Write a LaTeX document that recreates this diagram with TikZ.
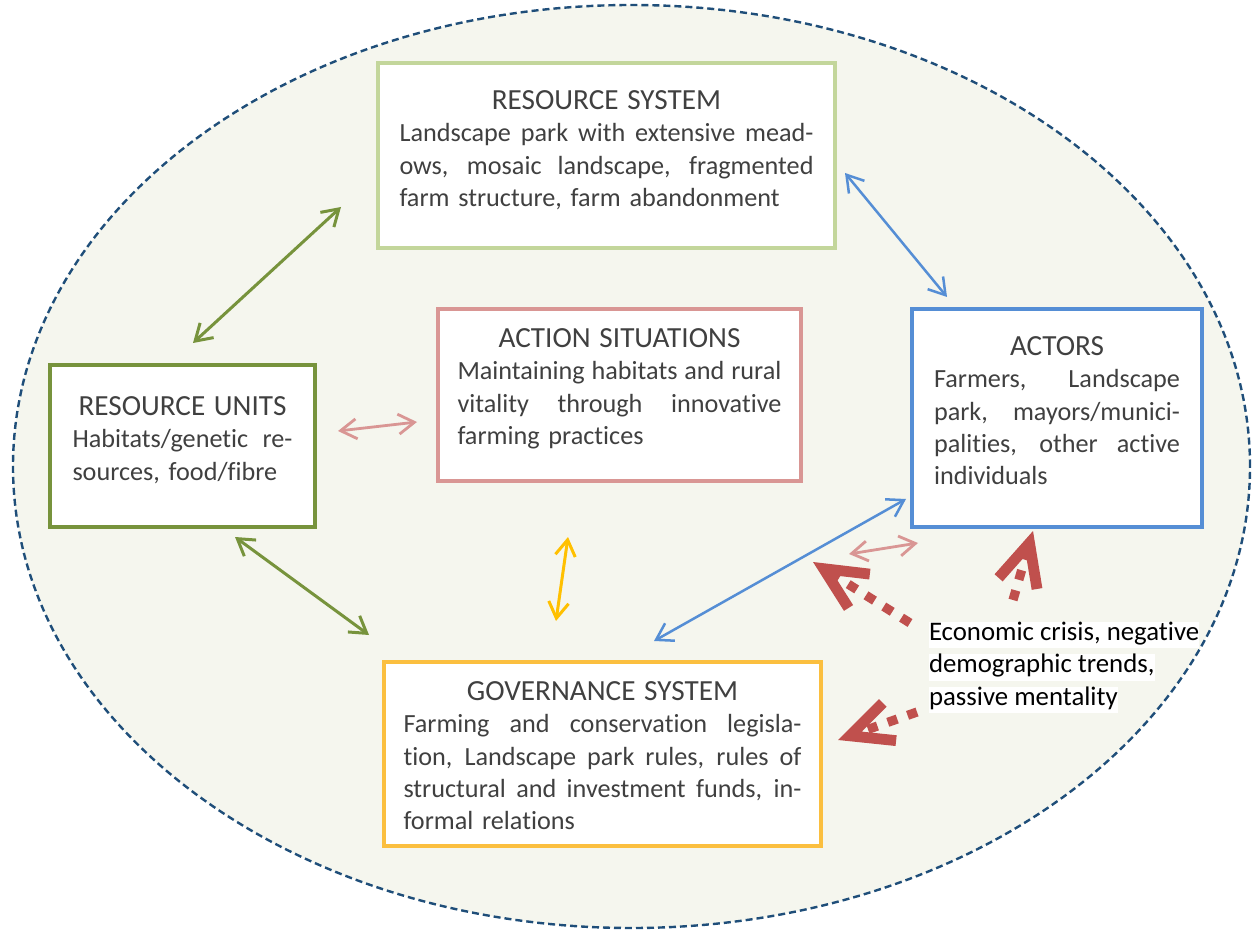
\documentclass[tikz,border=0pt]{standalone}
\usepackage{fontspec}
\setmainfont[Ligatures={NoCommon,NoContextual}]{Carlito}
\usepackage{xcolor}
\usetikzlibrary{arrows.meta,positioning}
\definecolor{ellfill}{HTML}{F5F6EE}
\definecolor{elldraw}{HTML}{1F4E79}
\definecolor{rsgreen}{HTML}{C3D69B}
\definecolor{rugreen}{HTML}{77933C}
\definecolor{aspink}{HTML}{D99694}
\definecolor{actblue}{HTML}{558ED5}
\definecolor{govgold}{HTML}{FFC000}
\definecolor{govbox}{HTML}{FBBF3F}
\definecolor{crisisred}{HTML}{C0504D}
\definecolor{txtgray}{HTML}{404040}
\setlength{\parindent}{0pt}
\setlength{\fboxsep}{0pt}
\newcommand{\bodyfont}{\fontsize{13.1}{16.2}\selectfont}
\newcommand{\headfont}{\fontsize{14.6}{16.2}\selectfont}
\newcommand{\econfont}{\fontsize{13.4}{16.2}\selectfont}
\newcommand{\fullln}[1]{\makebox[\hsize][s]{\spaceskip=0.226em plus 1fil\relax\xspaceskip=\spaceskip\relax #1}\\}
\newcommand{\lastln}[1]{\makebox[\hsize][l]{#1}}
\newcommand{\hlln}[1]{\colorbox{white}{\rule[-4pt]{0pt}{12.1pt}#1}}
\tikzset{
    ellsty/.style={draw=elldraw,fill=ellfill,line width=1.2pt,dash pattern=on 3.5pt off 2pt},
    boxsty/.style={draw=#1,line width=2.2pt,fill=white,rectangle,inner sep=0pt,outer sep=0pt},
    txtsty/.style={inner sep=0pt,outer sep=0pt,align=center,font=\bodyfont,text=txtgray},
    econsty/.style={inner sep=0pt,outer sep=0pt,anchor=north west,align=left,font=\econfont,text=black},
    linksty/.style={line cap=round,>={Straight Barb[length=8pt,width=10pt]},<->},
    rulinksty/.style={linksty,draw=rugreen,line width=1.5pt},
    actlinksty/.style={linksty,draw=actblue,line width=1.25pt},
    aslinksty/.style={linksty,draw=aspink,line width=1.4pt},
    govlinksty/.style={linksty,draw=govgold,line width=1.5pt},
    crisissty/.style={draw=crisisred,line width=4.6pt,dash pattern=on 5pt off 5.5pt,>={Straight Barb[length=21pt,width=20pt,line width=5.4pt]},->},
}

\begin{document}
\begin{tikzpicture}[x=0.5pt,y=-0.5pt]
  \useasboundingbox (0,0) rectangle (1258,930);
  \draw[ellsty] (631.5,466.5) ellipse [x radius=309.25pt,y radius=230.75pt];

  % boxes
  \node[boxsty=rsgreen,minimum width=228.5pt,minimum height=92.5pt] (rs) at (606.5,155.5) {};
  \node[txtsty,text width=207pt,below=13.65pt of rs.north] (rs-txt) {{\headfont RESOURCE SYSTEM}\\
     \fullln{Landscape park with extensive mead-}
     \fullln{ows, mosaic landscape, fragmented}
     \lastln{farm structure, farm abandonment}};

  \node[boxsty=aspink,minimum width=181.5pt,minimum height=86pt] (as) at (619.5,395) {};
  \node[txtsty,text width=162pt,below=9.65pt of as.north] (as-txt) {{\headfont ACTION SITUATIONS}\\
     \fullln{Maintaining habitats and rural}
     \fullln{vitality through innovative}
     \lastln{farming practices}};

  \node[boxsty=rugreen,minimum width=132.5pt,minimum height=81pt] (ru) at (182.5,446) {};
  \node[txtsty,text width=110pt,below=15.65pt of ru.north] (ru-txt) {{\headfont RESOURCE UNITS}\\
     \fullln{Habitats/genetic re-}
     \lastln{sources, food/fibre}};

  \node[boxsty=actblue,minimum width=145pt,minimum height=109pt] (act) at (1057,418) {};
  \node[txtsty,text width=123pt,below=13.65pt of act.north] (act-txt) {{\headfont ACTORS}\\
     \fullln{Farmers, Landscape}
     \fullln{park, mayors/munici-}
     \fullln{palities, other active}
     \lastln{individuals}};

  \node[boxsty=govbox,minimum width=218.5pt,minimum height=92pt] (gov) at (602.5,754) {};
  \node[txtsty,text width=199pt,below=9.65pt of gov.north] (gov-txt) {{\headfont GOVERNANCE SYSTEM}\\
     \fullln{Farming and conservation legisla-}
     \fullln{tion, Landscape park rules, rules of}
     \fullln{structural and investment funds, in-}
     \lastln{formal relations}};

  \node[econsty] (econ) at (929,622) {\hlln{Economic crisis, negative}\\\hlln{demographic trends,}\\\hlln{passive mentality}};

  % link ends
  \coordinate (ru-rs-a) at (193,343);
  \coordinate (ru-rs-b) at (341,207);
  \coordinate (ru-gov-a) at (235,537);
  \coordinate (ru-gov-b) at (369,635);
  \coordinate (ru-as-a) at (338,431);
  \coordinate (ru-as-b) at (417,422);
  \coordinate (rs-act-a) at (845,173);
  \coordinate (rs-act-b) at (947,297);
  \coordinate (gov-act-a) at (654,641);
  \coordinate (gov-act-b) at (906,499);
  \coordinate (as-gov-a) at (568,537);
  \coordinate (as-gov-b) at (556,621);
  \coordinate (as-act-a) at (849,554);
  \coordinate (as-act-b) at (918,543);
  \coordinate (crisis-as) at (813,562);
  \coordinate (crisis-act) at (1033,531);
  \coordinate (crisis-gov) at (838,740);
  \coordinate (econ-a) at (910,623);
  \coordinate (econ-b) at (1013,600);
  \coordinate (econ-c) at (917,712);

  \draw[rulinksty] (ru-rs-a) -- (ru-rs-b);
  \draw[rulinksty] (ru-gov-a) -- (ru-gov-b);
  \draw[aslinksty] (ru-as-a) -- (ru-as-b);
  \draw[aslinksty] (as-act-a) -- (as-act-b);
  \draw[actlinksty] (rs-act-a) -- (rs-act-b);
  \draw[actlinksty] (gov-act-a) -- (gov-act-b);
  \draw[govlinksty] (as-gov-a) -- (as-gov-b);

  \draw[crisissty] (econ-a) -- (crisis-as);
  \draw[crisissty] (econ-b) -- (crisis-act);
  \draw[crisissty] (econ-c) -- (crisis-gov);
\end{tikzpicture}
\end{document}
